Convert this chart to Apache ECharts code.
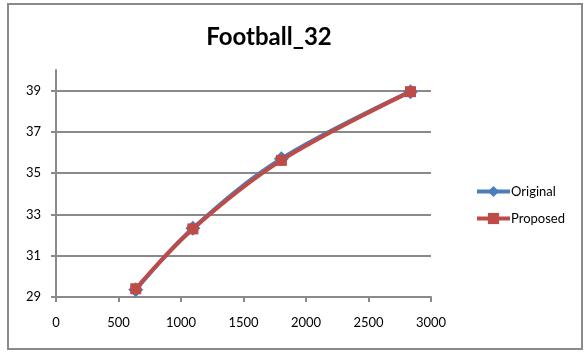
<!DOCTYPE html>
<html>
<head>
<meta charset="utf-8">
<script src="https://cdn.jsdelivr.net/npm/echarts@6/dist/echarts.min.js"></script>
<style>html,body{margin:0;padding:0;background:#fff}#c{width:584px;height:352px}</style>
</head>
<body>
<div id="c"></div>
<script>
const titleText = 'Football_32';
const bitrates = [638, 1095, 1803, 2836];
const originalPSNR = [29.35, 32.33, 35.7, 38.95];
const proposedPSNR = [29.4, 32.3, 35.62, 38.95];
const seriesNames = ['Original', 'Proposed'];

const FONT = 'Lato, "Open Sans", sans-serif';
const GRAY = '#8a8a8a';
const chart = echarts.init(document.getElementById('c'));
chart.setOption({
  animation: false,
  backgroundColor: '#fff',
  title: {
    text: titleText, left: 264, top: 20, textAlign: 'center',
    textStyle: {fontFamily: FONT, fontWeight: 'bold', fontSize: 24, color: '#000'}
  },
  graphic: [{
    type: 'rect', shape: {x: 8, y: 4, width: 574, height: 345},
    style: {fill: 'none', stroke: GRAY, lineWidth: 2}, silent: true
  }],
  legend: {
    orient: 'vertical', left: 470, top: 180, itemWidth: 33, itemHeight: 14, itemGap: 14,
    lineStyle: {width: 4},
    textStyle: {fontFamily: FONT, fontSize: 13, color: '#000', padding: [0, 0, 0, -4]},
    data: seriesNames
  },
  grid: {left: 56, right: 153, top: 70, bottom: 55},
  xAxis: {
    type: 'value', min: 0, max: 3000, interval: 500,
    axisLine: {show: true, lineStyle: {color: GRAY, width: 2}},
    axisTick: {show: true, length: 5, lineStyle: {color: GRAY, width: 2}},
    axisLabel: {fontFamily: FONT, fontSize: 13, color: '#000', margin: 19, formatter: v => String(v)},
    splitLine: {show: false}
  },
  yAxis: {
    type: 'value', min: 29, max: 40, interval: 2,
    axisLine: {show: true, lineStyle: {color: GRAY, width: 2}},
    axisTick: {show: true, length: 5, lineStyle: {color: GRAY, width: 2}},
    axisLabel: {fontFamily: FONT, fontSize: 13, color: '#000', margin: 15, showMaxLabel: false},
    splitLine: {show: true, lineStyle: {color: [GRAY, GRAY, GRAY, GRAY, GRAY, GRAY, 'rgba(0,0,0,0)'], width: 2}}
  },
  series: [
    {
      name: seriesNames[0], type: 'line', smooth: 0.35,
      data: bitrates.map((x, i) => [x, originalPSNR[i]]),
      symbol: 'diamond', symbolSize: 15,
      itemStyle: {color: '#4a7ebb'}, lineStyle: {color: '#4a7ebb', width: 4}
    },
    {
      name: seriesNames[1], type: 'line', smooth: 0.35,
      data: bitrates.map((x, i) => [x, proposedPSNR[i]]),
      symbol: 'rect', symbolSize: 11,
      itemStyle: {color: '#be4b48'}, lineStyle: {color: '#be4b48', width: 4}
    }
  ]
});
</script>
</body>
</html>
